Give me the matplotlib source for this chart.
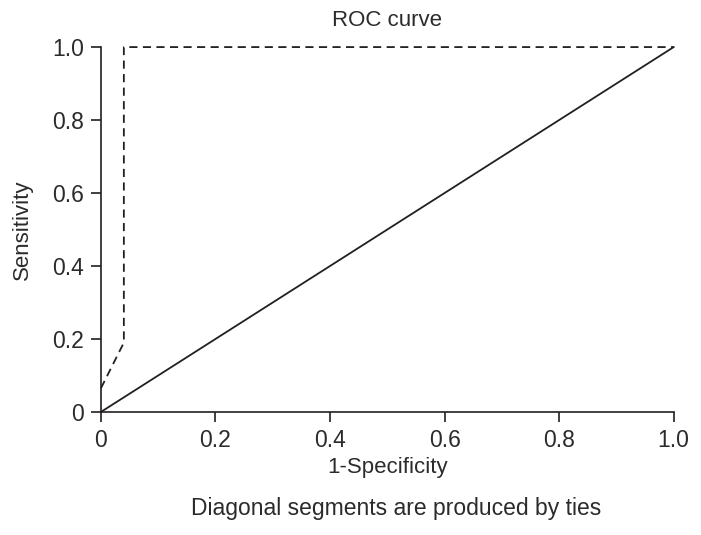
import matplotlib
matplotlib.use("Agg")
from matplotlib import pyplot as plt

# ROC curve points
fpr = [0.0, 0.04, 0.04, 1.0]
tpr = [0.065, 0.19, 1.0, 1.0]
ref_x = [0.0, 1.0]
ref_y = [0.0, 1.0]
ticks = [0, 0.2, 0.4, 0.6, 0.8, 1.0]
tick_labels = ["0", "0.2", "0.4", "0.6", "0.8", "1.0"]

col = "#231f20"
txt = "#2b2b2b"
plt.rcParams['font.family'] = ['Liberation Sans', 'DejaVu Sans']

fig = plt.figure(figsize=(7.01, 5.35), dpi=100)
ax = fig.add_axes([0.144, 0.23, 0.817, 0.682])

ax.plot(fpr, tpr, color=col, lw=1.3, ls=(0, (4.5, 3)), clip_on=False)
ax.plot(ref_x, ref_y, color=col, lw=1.3, clip_on=False)

ax.set_xlim(0, 1)
ax.set_ylim(0, 1)
ax.set_xticks(ticks)
ax.set_xticklabels(tick_labels)
ax.set_yticks(ticks)
ax.set_yticklabels(tick_labels)
for s in ["top", "right"]:
    ax.spines[s].set_visible(False)
for s in ["left", "bottom"]:
    ax.spines[s].set_color(col)
    ax.spines[s].set_linewidth(1.2)
ax.tick_params(direction="out", length=7, width=1.2, color=col,
               labelsize=16.5, labelcolor=txt, pad=5)

ax.set_title("ROC curve", fontsize=16, color=txt, pad=15)
ax.set_xlabel("1-Specificity", fontsize=16, color=txt, labelpad=4)
ax.set_ylabel("Sensitivity", fontsize=16, color=txt, labelpad=14)
fig.text(396 / 701, 1 - 509 / 535, "Diagonal segments are produced by ties",
         ha="center", va="center", fontsize=16.5, color=txt)

fig.savefig("out.png", dpi=100)
